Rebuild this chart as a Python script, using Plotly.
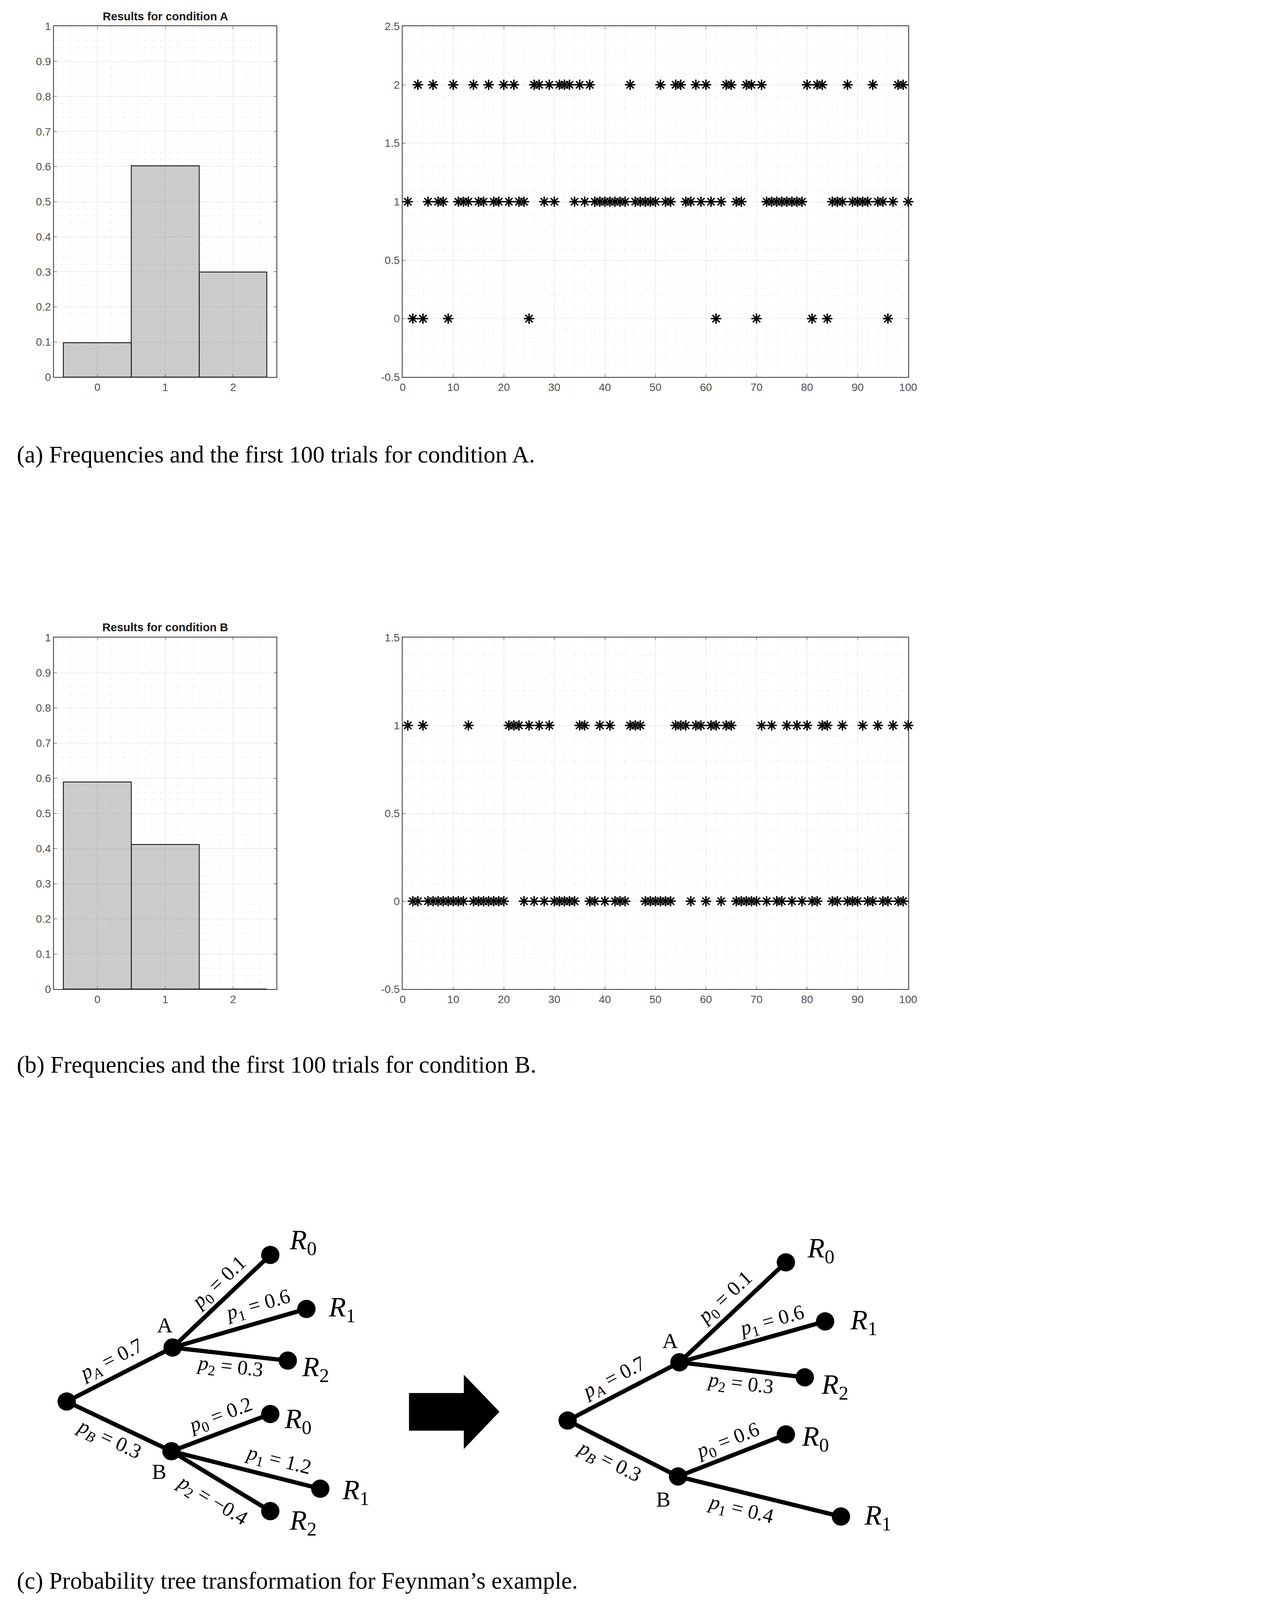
import math
import plotly.graph_objects as go

# reference picture size (device pixels) and the page scale seen in the screenshots
W, H = 3283, 5620
K = 1.365          # device pixels per CSS pixel
MARGIN = 8         # default body margin of the page (CSS px)
Y_SHIFT = -16      # small vertical correction (device px)
FW, FH = round(W / K) - 2 * MARGIN, round(H / K) - 2 * MARGIN

# ---- data -------------------------------------------------------------
bins = [0, 1, 2]
freq_a = [0.098, 0.602, 0.300]
freq_b = [0.589, 0.411, 0.0]

trials = list(range(1, 101))
results_a = [1, 0, 2, 0, 1, 2, 1, 1, 0, 2,
             1, 1, 1, 2, 1, 1, 2, 1, 1, 2,
             1, 2, 1, 1, 0, 2, 2, 1, 2, 1,
             2, 2, 2, 1, 2, 1, 2, 1, 1, 1,
             1, 1, 1, 1, 2, 1, 1, 1, 1, 1,
             2, 1, 1, 2, 2, 1, 1, 2, 1, 2,
             1, 0, 1, 2, 2, 1, 1, 2, 2, 0,
             2, 1, 1, 1, 1, 1, 1, 1, 1, 2,
             0, 2, 2, 0, 1, 1, 1, 2, 1, 1,
             1, 1, 2, 1, 1, 0, 1, 2, 2, 1]
results_b = [1, 0, 0, 1, 0, 0, 0, 0, 0, 0,
             0, 0, 1, 0, 0, 0, 0, 0, 0, 0,
             1, 1, 1, 0, 1, 0, 1, 0, 1, 0,
             0, 0, 0, 0, 1, 1, 0, 0, 1, 0,
             1, 0, 0, 0, 1, 1, 1, 0, 0, 0,
             0, 0, 0, 1, 1, 1, 0, 1, 1, 0,
             1, 1, 0, 1, 1, 0, 0, 0, 0, 0,
             1, 0, 1, 0, 0, 1, 0, 1, 0, 1,
             0, 0, 1, 1, 0, 0, 1, 0, 0, 0,
             1, 0, 0, 1, 0, 0, 1, 0, 0, 1]

# probability trees: (parent, child, symbol, value)
tree_before = [("root", "A", "A", "0.7"), ("root", "B", "B", "0.3"),
               ("A", "A0", "0", "0.1"), ("A", "A1", "1", "0.6"), ("A", "A2", "2", "0.3"),
               ("B", "B0", "0", "0.2"), ("B", "B1", "1", "1.2"), ("B", "B2", "2", "\u22120.4")]
tree_after = [("root", "A", "A", "0.7"), ("root", "B", "B", "0.3"),
              ("A", "A0", "0", "0.1"), ("A", "A1", "1", "0.6"), ("A", "A2", "2", "0.3"),
              ("B", "B0", "0", "0.6"), ("B", "B1", "1", "0.4")]
leaf_names = {"A0": "0", "A1": "1", "A2": "2", "B0": "0", "B1": "1", "B2": "2"}

captions = ["(a) Frequencies and the first 100 trials for condition A.",
            "(b) Frequencies and the first 100 trials for condition B.",
            "(c) Probability tree transformation for Feynman\u2019s example."]

# ---- diagram layout (reference pixels) ---------------------------------
node_pos = {
    "before": {"root": (225, 4930), "A": (600, 4740), "B": (596, 5105),
               "A0": (946, 4414), "A1": (1074, 4604), "A2": (1008, 4786),
               "B0": (946, 4974), "B1": (1123, 5237), "B2": (946, 5316)},
    "after": {"root": (1999, 4997), "A": (2395, 4792), "B": (2390, 5194),
              "A0": (2772, 4440), "A1": (2911, 4648), "A2": (2839, 4845),
              "B0": (2772, 5046), "B1": (2967, 5335)},
}
# edge label placement: (fraction along the edge, offset to the upper side in px)
edge_label_place = {
    "before": {"A": (0.49, 57), "B": (0.47, -58), "A0": (0.58, 52), "A1": (0.67, 58),
               "A2": (0.51, -48), "B0": (0.55, 56), "B1": (0.69, 58), "B2": (0.52, -76)},
    "after": {"A": (0.48, 56), "B": (0.45, -64), "A0": (0.53, 54), "A1": (0.66, 50),
              "A2": (0.50, -52), "B0": (0.51, 52), "B1": (0.41, -62)},
}
node_label_pos = {
    "before": {"A": (572, 4660), "B": (552, 5176), "A0": (1062, 4368), "A1": (1200, 4604),
               "A2": (1106, 4814), "B0": (1044, 4997), "B1": (1248, 5248), "B2": (1062, 5355)},
    "after": {"A": (2362, 4715), "B": (2338, 5274), "A0": (2896, 4396), "A1": (3048, 4649),
              "A2": (2946, 4877), "B0": (2876, 5060), "B1": (3098, 5337)},
}
TREE_BOX = (40, 4250, 3240, 5460)   # left, top, right, bottom


def px(x):
    return (x / K - MARGIN) / FW


def py(y):
    return 1 - ((y + Y_SHIFT) / K - MARGIN) / FH


def s(v):
    return v / K


tick_font = dict(family="Liberation Sans", size=s(38), color="#505050")
serif = "Liberation Serif"


def axis_style(minor_dtick, **kw):
    d = dict(showline=True, linecolor="#333333", linewidth=s(3), mirror="ticks",
             ticks="inside", ticklen=s(10), tickwidth=s(2), tickcolor="#333333",
             showgrid=True, gridcolor="#dedede", gridwidth=s(2), zeroline=False,
             tickfont=tick_font, fixedrange=True,
             minor=dict(dtick=minor_dtick, showgrid=True, gridcolor="#bdbdbd",
                        gridwidth=s(2), griddash="1.5px,9px", ticks=""))
    d.update(kw)
    return d


fig = go.Figure()

panels = [
    # (hist axis idx, scatter axis idx, freqs, results, top, bottom, ymax, title)
    (1, 2, freq_a, results_a, 88, 1323, 2.5, "Results for condition A"),
    (3, 4, freq_b, results_b, 2240, 3478, 1.5, "Results for condition B"),
]

annotations = []
for hi, si, freqs, res, top, bottom, ymax, title in panels:
    fig.add_trace(go.Bar(x=bins, y=freqs, width=1,
                         marker=dict(color="rgba(128,128,128,0.4)",
                                     line=dict(color="#151515", width=s(3))),
                         xaxis=f"x{hi}", yaxis=f"y{hi}", showlegend=False))
    fig.add_trace(go.Scatter(x=trials, y=res, mode="markers", cliponaxis=False,
                             marker=dict(symbol="asterisk-open", size=s(30), color="black",
                                         line=dict(color="black", width=s(5))),
                             xaxis=f"x{si}", yaxis=f"y{si}", showlegend=False))
    yv = [v / 2 for v in range(-1, int(ymax * 2) + 1)]
    fig.update_layout(**{
        f"xaxis{hi}": axis_style(0.2, domain=[px(180), px(968)], range=[-0.64, 2.64],
                                 tickvals=bins, anchor=f"y{hi}"),
        f"yaxis{hi}": axis_style(0.02, domain=[py(bottom), py(top)], range=[0, 1],
                                 dtick=0.1, anchor=f"x{hi}"),
        f"xaxis{si}": axis_style(2, domain=[px(1415), px(3205)], range=[0, 100],
                                 dtick=10, anchor=f"y{si}"),
        f"yaxis{si}": axis_style(0.1, domain=[py(bottom), py(top)], range=[-0.5, ymax],
                                 tickvals=yv, ticktext=[f"{v:g}" for v in yv],
                                 anchor=f"x{si}"),
    })
    annotations.append(dict(text=f"<b>{title}</b>", x=px(574), y=py(top - 36),
                            xref="paper", yref="paper", xanchor="center", yanchor="middle",
                            showarrow=False,
                            font=dict(family="Liberation Sans", size=s(40), color="#1a1a1a")))

# ---- probability trees -------------------------------------------------
for key, edges in (("before", tree_before), ("after", tree_after)):
    pos = node_pos[key]
    ex, ey = [], []
    for parent, child, sym, val in edges:
        (x0, y0), (x1, y1) = pos[parent], pos[child]
        ex += [x0, x1, None]
        ey += [y0, y1, None]
        dx, dy = x1 - x0, y1 - y0
        length = math.hypot(dx, dy)
        ux, uy = dx / length, dy / length
        t, off = edge_label_place[key][child]
        lx = x0 + t * dx + off * uy
        ly = y0 + t * dy - off * ux
        ang = math.degrees(math.atan2(dy, dx))
        sub = f"<i>{sym}</i>" if sym.isalpha() else sym
        annotations.append(dict(text=f"<i>p</i><sub>{sub}</sub> = {val}", x=px(lx), y=py(ly),
                                xref="paper", yref="paper", xanchor="center",
                                yanchor="middle", showarrow=False, textangle=ang,
                                font=dict(family=serif, size=s(72), color="black")))
    fig.add_trace(go.Scatter(x=ex, y=ey, mode="lines", line=dict(color="black", width=s(15)),
                             xaxis="x5", yaxis="y5", showlegend=False, hoverinfo="skip"))
    names = list(pos.keys())
    fig.add_trace(go.Scatter(x=[pos[n][0] for n in names], y=[pos[n][1] for n in names],
                             mode="markers", marker=dict(color="black", size=s(64)),
                             xaxis="x5", yaxis="y5", showlegend=False, hoverinfo="skip"))
    for n, (lx, ly) in node_label_pos[key].items():
        if n in leaf_names:
            txt, size = f"<i>R</i><sub>{leaf_names[n]}</sub>", 98
        else:
            txt, size = n, 76
        annotations.append(dict(text=txt, x=px(lx), y=py(ly), xref="paper", yref="paper",
                                xanchor="center", yanchor="middle", showarrow=False,
                                font=dict(family=serif, size=s(size), color="black")))

# captions
for txt, cy in zip(captions, [1596, 3744, 5562]):
    annotations.append(dict(text=txt, x=px(46), y=py(cy), xref="paper", yref="paper",
                            xanchor="left", yanchor="middle", showarrow=False,
                            font=dict(family=serif, size=s(83), color="black")))

# transformation arrow (reference pixels on the tree axis)
arrow = "M1438,4901 L1632,4901 L1632,4837 L1757,4966 L1632,5096 L1632,5032 L1438,5032 Z"

tl, tt, tr, tb = TREE_BOX
fig.update_layout(
    width=FW, height=FH, margin=dict(l=0, r=0, t=0, b=0),
    paper_bgcolor="white", plot_bgcolor="rgba(0,0,0,0)",
    xaxis5=dict(domain=[px(tl), px(tr)], range=[tl, tr], visible=False, anchor="y5",
                fixedrange=True),
    yaxis5=dict(domain=[py(tb), py(tt)], range=[tb, tt], visible=False, anchor="x5",
                fixedrange=True),
    annotations=annotations,
    shapes=[dict(type="path", path=arrow, xref="x5", yref="y5",
                 fillcolor="black", line=dict(color="black", width=1))],
    bargap=0,
)

fig.write_html("out.html")
